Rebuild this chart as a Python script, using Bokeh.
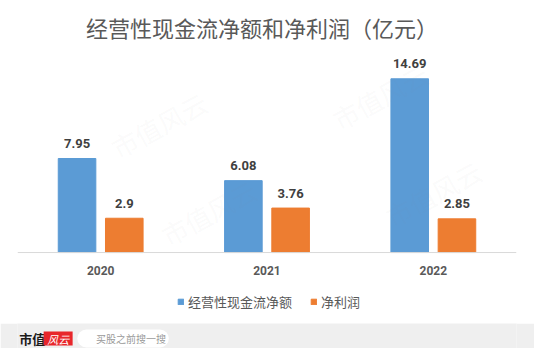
from bokeh.plotting import figure
from bokeh.models import (ColumnDataSource, FactorRange, Range1d, LabelSet, Label,
                          Legend, LegendItem, BoxAnnotation, Span)
from bokeh.core.properties import value
from bokeh.transform import dodge
from bokeh.layouts import column
from bokeh.embed import file_html
from bokeh.resources import INLINE

# ---- data ----
years = ["2020", "2021", "2022"]
cash_flow = [7.95, 6.08, 14.69]
net_profit = [2.9, 3.76, 2.85]
cash_labels = ["7.95", "6.08", "14.69"]
profit_labels = ["2.9", "3.76", "2.85"]
series_names = ["经营性现金流净额", "净利润"]
title_text = "经营性现金流净额和净利润（亿元）"

BLUE = "#5b9bd5"
ORANGE = "#ed7d31"
CJK = "Noto Sans CJK SC"
NUM = "Roboto"

src = ColumnDataSource(dict(year=years, cash=cash_flow, profit=net_profit,
                            cash_lbl=cash_labels, profit_lbl=profit_labels))

W = 534
p = figure(x_range=FactorRange(*years), y_range=Range1d(-6.0, 21.31),
           width=W, height=323, output_backend="svg", toolbar_location=None,
           min_border_left=17, min_border_right=18, min_border_top=0,
           min_border_bottom=0)
p.background_fill_color = "white"
p.border_fill_color = "white"
p.outline_line_color = None
p.xgrid.visible = False
p.ygrid.visible = False
p.axis.visible = False
p.x_range.range_padding = 0

# watermarks (very faint)
for wx, wy in [(0.85, 10.8), (2.18, 13.2), (1.15, 3.4), (2.5, 5.0)]:
    p.add_layout(Label(x=wx, y=wy, text="市值风云", text_align="center",
                       text_baseline="middle", angle=0.5, text_font=CJK,
                       text_font_size="26px", text_color="#9a9a9a", text_alpha=0.055))

p.add_layout(Span(location=0, dimension="width", line_color="#d9d9d9", line_width=1))

r1 = p.vbar(x=dodge("year", -0.142, range=p.x_range), top="cash", width=0.226,
            source=src, fill_color=BLUE, line_color=BLUE)
r2 = p.vbar(x=dodge("year", 0.142, range=p.x_range), top="profit", width=0.226,
            source=src, fill_color=ORANGE, line_color=ORANGE)

for col, lbl, off in (("cash", "cash_lbl", -0.142), ("profit", "profit_lbl", 0.142)):
    p.add_layout(LabelSet(x=dodge("year", off, range=p.x_range), y=col, text=lbl,
                          source=src, text_align="center", text_baseline="middle",
                          y_offset=15, text_font=value(NUM), text_font_size="13px",
                          text_font_style="bold", text_color="#404040"))

# category (axis) labels
p.add_layout(LabelSet(x="year", y=0, text="year", source=src, text_align="center",
                      text_baseline="middle", y_offset=-18, text_font=value(NUM),
                      text_font_size="12px", text_font_style="bold",
                      text_color="#595959"))

# title
p.add_layout(Label(x=1.47, y=19.03, text=title_text, text_align="center",
                   text_baseline="middle", text_font=CJK, text_font_size="22px",
                   text_color="#595959"))

legend = Legend(items=[LegendItem(label=series_names[0], renderers=[r1]),
                       LegendItem(label=series_names[1], renderers=[r2])],
                orientation="horizontal", location=(160, 12),
                glyph_width=7, glyph_height=7, label_standoff=4, spacing=18,
                label_text_font=CJK, label_text_font_size="13px",
                label_text_color="#595959", border_line_color=None,
                background_fill_alpha=0, margin=0, padding=0,
                label_height=17)
p.add_layout(legend)

# ---- footer ----
f = figure(x_range=Range1d(8, 542), y_range=Range1d(356, 331), width=W, height=25,
           output_backend="svg", toolbar_location=None, min_border=0)
f.axis.visible = False
f.grid.visible = False
f.outline_line_color = None
f.background_fill_color = "#efefef"
f.border_fill_color = "#efefef"
f.add_layout(Label(x=10, y=346, text="市值", text_baseline="middle",
                   text_font=CJK, text_font_size="13px", text_font_style="bold",
                   text_color="#1a1a1a"))
f.add_layout(BoxAnnotation(left=36, right=67, top=339, bottom=353,
                           fill_color="#e8262b", fill_alpha=1, line_color=None))
f.add_layout(Label(x=51.5, y=346, text="风云", text_align="center", text_baseline="middle",
                   text_font=CJK, text_font_size="11px", text_font_style="italic",
                   text_color="white"))
f.add_layout(BoxAnnotation(left=72, right=170, top=337, bottom=355,
                           fill_color="white", fill_alpha=1, line_color=None,
                           border_radius=9))
f.circle(x=[81], y=[345.5], radius=3.5, fill_color=None, line_color="#888888",
         line_width=1.3)
f.segment(x0=[83.5], y0=[348], x1=[86], y1=[350.5], line_color="#888888", line_width=1.3)
f.add_layout(Label(x=92, y=346, text="买股之前搜一搜", text_baseline="middle",
                   text_font=CJK, text_font_size="10px", text_color="#9a9a9a"))

layout = column(p, f, spacing=0)
open("out.html", "w").write(file_html(layout, INLINE))
